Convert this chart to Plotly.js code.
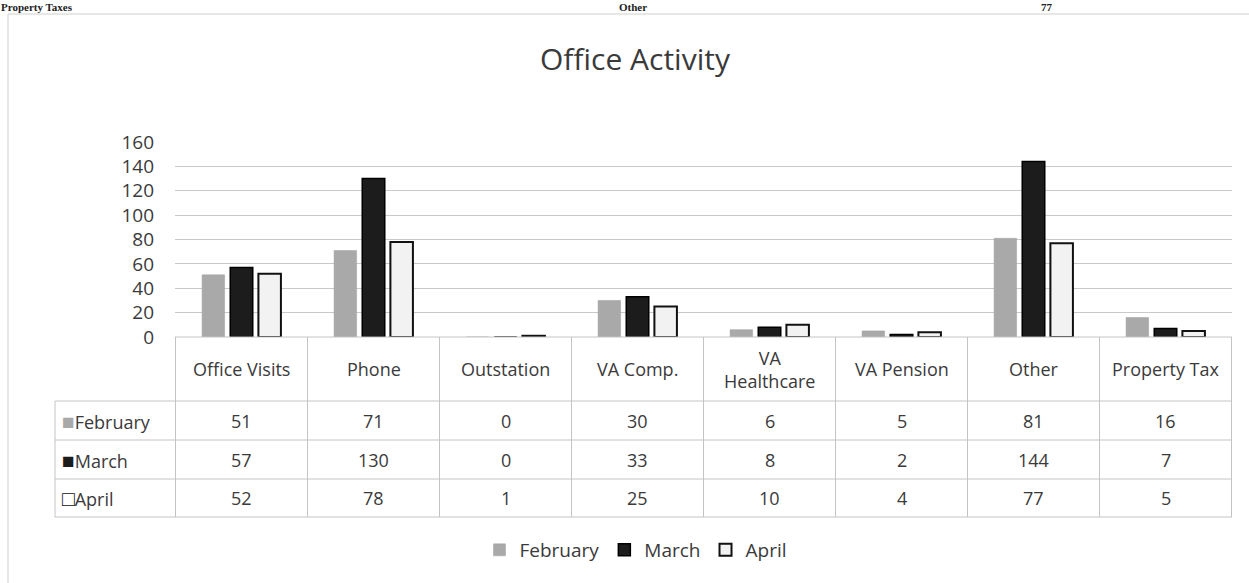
<!DOCTYPE html>
<html>
<head>
<meta charset="utf-8">
<script src="https://cdn.plot.ly/plotly-3.0.1.min.js"></script>
<style>html,body{margin:0;padding:0;background:#fff;}#chart{width:1249px;height:583px;}</style>
</head>
<body>
<div id="chart"></div>
<script>
// ---- data ----
const categories = ["Office Visits", "Phone", "Outstation", "VA Comp.", "VA Healthcare", "VA Pension", "Other", "Property Tax"];
const headerLabels = ["Office Visits", "Phone", "Outstation", "VA Comp.", "VA<br>Healthcare", "VA Pension", "Other", "Property Tax"];
const february = [51, 71, 0, 30, 6, 5, 81, 16];
const march = [57, 130, 0, 33, 8, 2, 144, 7];
const april = [52, 78, 1, 25, 10, 4, 77, 5];
const seriesNames = ["February", "March", "April"];
const yTicks = [0, 20, 40, 60, 80, 100, 120, 140, 160];
const clippedHeader = ["Property Taxes", "Other", "77"];

// ---- geometry helpers ----
const W = 1249, H = 583, L = 175, R = 17, T = 142, B = 246;
const pw = W - L - R, ph = H - T - B;
const px2x = p => (p - L) / pw;
const px2y = p => (H - B - p) / ph;

const FONT = "'Open Sans', 'Noto Sans', sans-serif";
const TXT = "#3a3a3a";
const GRID = "#c9c9c9";
const LINE = "#c4c4c4";

const colors = {
  February: {fill: "#a9a9a9", line: "#a0a0a0", lw: 0.5},
  March: {fill: "#1c1c1c", line: "#000000", lw: 1.5},
  April: {fill: "#f2f2f2", line: "#111111", lw: 2}
};
const seriesVals = [february, march, april];

const traces = seriesNames.map((n, i) => ({
  type: "bar",
  name: n,
  x: categories,
  y: seriesVals[i],
  marker: {color: colors[n].fill, line: {color: colors[n].line, width: colors[n].lw}},
  hoverinfo: "x+y+name"
}));

// ---- table: shapes & annotations ----
const shapes = [];
const annotations = [];
const rowTop = 337, headerBottom = 401, rowBounds = [401, 440, 479, 517];
const legendLeft = 55;

shapes.push({type: "line", xref: "paper", yref: "paper", x0: 0, x1: 1, y0: px2y(rowTop), y1: px2y(rowTop), line: {color: LINE, width: 1}});
rowBounds.forEach(r => shapes.push({type: "line", xref: "paper", yref: "paper", x0: px2x(legendLeft), x1: 1, y0: px2y(r), y1: px2y(r), line: {color: LINE, width: 1}}));
for (let i = 0; i <= categories.length; i++) {
  shapes.push({type: "line", xref: "x", yref: "paper", x0: i - 0.5, x1: i - 0.5, y0: px2y(rowTop), y1: px2y(rowBounds[3]), line: {color: LINE, width: 1}});
}
shapes.push({type: "line", xref: "paper", yref: "paper", x0: px2x(legendLeft), x1: px2x(legendLeft), y0: px2y(headerBottom), y1: px2y(rowBounds[3]), line: {color: LINE, width: 1}});
// chart frame
shapes.push({type: "line", xref: "paper", yref: "paper", x0: px2x(8), x1: px2x(1249), y0: px2y(14), y1: px2y(14), line: {color: "#cfcfcf", width: 1}});
shapes.push({type: "line", xref: "paper", yref: "paper", x0: px2x(8), x1: px2x(8), y0: px2y(14), y1: px2y(583), line: {color: "#cfcfcf", width: 1}});

headerLabels.forEach((h, i) => annotations.push({
  xref: "x", yref: "paper", x: i, y: px2y((rowTop + headerBottom) / 2),
  text: h, showarrow: false, xanchor: "center", yanchor: "middle",
  font: {family: FONT, size: 18, color: TXT}
}));
seriesVals.forEach((vals, r) => {
  const cy = (rowBounds[r] + rowBounds[r + 1]) / 2;
  vals.forEach((v, i) => annotations.push({
    xref: "x", yref: "paper", x: i, y: px2y(cy),
    text: String(v), showarrow: false, xanchor: "center", yanchor: "middle",
    font: {family: FONT, size: 18, color: TXT}
  }));
  const sym = seriesNames[r] === "April"
    ? '<span style="color:#111;font-size:21px">□</span>'
    : '<span style="color:' + colors[seriesNames[r]].fill + ';font-size:21px">■</span>';
  annotations.push({
    xref: "paper", yref: "paper", x: px2x(60), y: px2y(cy),
    text: sym + seriesNames[r], showarrow: false, xanchor: "left", yanchor: "middle",
    font: {family: FONT, size: 18, color: TXT}
  });
});
// text of the scanned page just above the chart
const clipX = [0, 618, 1040];
clippedHeader.forEach((t, i) => annotations.push({
  xref: "paper", yref: "paper", x: px2x(clipX[i]), y: px2y(0),
  text: "<b>" + t + "</b>", showarrow: false, xanchor: "left", yanchor: "top",
  borderpad: 0,
  font: {family: "'Liberation Serif', serif", size: 11, color: "#222"}
}));

const layout = {
  width: W, height: H,
  margin: {l: L, r: R, t: T, b: B},
  paper_bgcolor: "#ffffff", plot_bgcolor: "#ffffff",
  title: {text: "Office Activity", x: px2x(635), xref: "paper", xanchor: "center", y: 1 - 59 / H, yanchor: "middle",
          font: {family: FONT, size: 30, color: TXT}},
  barmode: "group", bargap: 0.36, bargroupgap: 0.2,
  xaxis: {type: "category", showticklabels: false, showgrid: false, zeroline: false, showline: false, ticks: ""},
  yaxis: {range: [0, 160], tickvals: yTicks, showgrid: true, gridcolor: GRID, gridwidth: 1,
          zeroline: false, showline: false, ticks: "", ticklabelstandoff: 20,
          tickfont: {family: FONT, size: 19, color: TXT}},
  showlegend: true,
  legend: {orientation: "h", x: px2x(636), xanchor: "center", y: px2y(550), yanchor: "middle",
           font: {family: FONT, size: 19, color: TXT}, itemwidth: 30, traceorder: "normal"},
  shapes: shapes, annotations: annotations
};

Plotly.newPlot("chart", traces, layout, {displayModeBar: false, staticPlot: true});
</script>
</body>
</html>
